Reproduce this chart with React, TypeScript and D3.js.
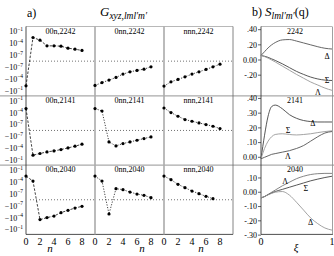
import React from "react";
import * as d3 from "d3";

// ---- panel a) data : G_xyz,lml'm' versus n ----
const nValues = [0, 1, 2, 3, 4, 5, 6, 7, 8];
const panelNames = [
  ["00n,2242", "0nn,2242", "nnn,2242"],
  ["00n,2141", "0nn,2141", "nnn,2141"],
  ["00n,2040", "0nn,2040", "nnn,2040"],
];

const g00n2242 = [-5.4e-3, 3.0e-3, 6.3e-4, 2.3e-5, 2.3e-5, 1.9e-5, 5.9e-6, 3.3e-6, 1.55e-6];
const g0nn2242 = [-4.3e-3, -8.3e-4, -1.95e-4, -4.1e-5, -5.9e-6, -1.55e-6, -6.8e-7, -3.2e-7, -8.2e-8];
const gnnn2242 = [-6.4e-3, -5.2e-4, -1.3e-4, -2.9e-5, -5.9e-6, -1.55e-6, -3.8e-7, -8.2e-8, -1.45e-8];

const g00n2141 = [1.05e-3, -5.7e-3, -2.1e-3, -8.3e-4, -4.7e-4, -2.1e-4, -8.2e-5, -3.0e-5, -9.4e-6];
const g0nn2141 = [1.05e-3, 2.6e-4, -2.5e-6, -2.5e-5, -6.3e-6, -2.5e-6, -9.2e-7, -3.4e-7, -1.32e-7];
const gnnn2141 = [1.5e-3, 1.03e-4, 1.2e-5, 1.75e-6, 6.5e-7, 2.4e-7, 9.2e-8, 3.2e-8, 6.2e-9];

const g00n2040 = [3.0e-3, 1.64e-4, -3.3e-4, -1.03e-4, -4.1e-5, -5.6e-6, -1.47e-6, -3.8e-7, -1.4e-7];
const g0nn2040 = [3.0e-3, 1.64e-4, -1.26e-5, 1.96e-6, 1.1e-6, 2.7e-7, 8.2e-8, 3.7e-8, 7.3e-9];
const gnnn2040 = [3.0e-3, 3.7e-4, 2.4e-5, 3.5e-6, 4.8e-7, 1.04e-7, 1.9e-8, 2.75e-9];

const gSeries = [
  [g00n2242, g0nn2242, gnnn2242],
  [g00n2141, g0nn2141, gnnn2141],
  [g00n2040, g0nn2040, gnnn2040],
];

const gTicks = [1e-1, 1e-4, 1e-7, -1e-7, -1e-4, -1e-1];
const nTicks = [0, 2, 4, 6, 8];

// ---- panel b) data : S_lml'm'(q) versus xi ----
const xi = [0, 0.05, 0.1, 0.15, 0.2, 0.3, 0.4, 0.5, 0.6, 0.7, 0.8, 0.9, 1];
const bRowNames = ["2242", "2141", "2040"];

const s2242Delta = [0.06, 0.11, 0.16, 0.2, 0.23, 0.265, 0.27, 0.25, 0.225, 0.2, 0.175, 0.155, 0.145];
const s2242Sigma = [0.06, 0.05, 0.035, 0.015, -0.005, -0.05, -0.1, -0.15, -0.19, -0.225, -0.25, -0.265, -0.27];
const s2242Lambda = [0.06, 0.045, 0.025, 0.0, -0.025, -0.08, -0.135, -0.19, -0.24, -0.29, -0.33, -0.37, -0.4];

const s2141Delta = [-0.01, 0.15, 0.28, 0.345, 0.355, 0.33, 0.29, 0.265, 0.25, 0.243, 0.24, 0.24, 0.24];
const s2141Sigma = [-0.01, 0.06, 0.11, 0.14, 0.155, 0.16, 0.155, 0.152, 0.155, 0.16, 0.168, 0.175, 0.18];
const s2141Lambda = [-0.01, 0.0, 0.01, 0.02, 0.025, 0.035, 0.045, 0.06, 0.08, 0.11, 0.14, 0.165, 0.175];

const s2040Lambda = [-0.04, -0.03, -0.015, 0.0, 0.015, 0.045, 0.07, 0.095, 0.112, 0.124, 0.13, 0.132, 0.132];
const s2040Sigma = [-0.04, -0.03, -0.017, -0.005, 0.005, 0.02, 0.035, 0.05, 0.065, 0.08, 0.092, 0.103, 0.112];
const s2040Delta = [-0.04, -0.03, -0.018, -0.008, 0.0, 0.005, -0.02, -0.07, -0.125, -0.18, -0.22, -0.25, -0.265];

const bCurves = [
  [
    { name: "Δ", values: s2242Delta, at: [0.93, 0.05] },
    { name: "Σ", values: s2242Sigma, at: [0.93, -0.265] },
    { name: "Λ", values: s2242Lambda, at: [0.8, -0.42] },
  ],
  [
    { name: "Δ", values: s2141Delta, at: [0.73, 0.233] },
    { name: "Σ", values: s2141Sigma, at: [0.38, 0.186] },
    { name: "Λ", values: s2141Lambda, at: [0.38, 0.009] },
  ],
  [
    { name: "Λ", values: s2040Lambda, at: [0.34, 0.077] },
    { name: "Σ", values: s2040Sigma, at: [0.63, 0.028] },
    { name: "Δ", values: s2040Delta, at: [0.7, -0.21] },
  ],
];
const curveColors = [
  ["#555", "#444", "#999"],
  ["#444", "#999", "#555"],
  ["#777", "#444", "#999"],
];

const bTicks = [
  [0.4, 0.2, 0, -0.2],
  [0.4, 0.3, 0.2, 0.1, 0],
  [0.1, 0, -0.1, -0.2, -0.3],
];
const bDomains = [
  [-0.472, 0.442],
  [-0.053, 0.418],
  [-0.295, 0.19],
];

const FONT = "'Liberation Serif', 'DejaVu Serif', serif";

const W = 334;
const H = 256;
const aLeft = 26;
const colW = 69;
const rowTop = 26.5;
const rowH = 69.3;
const bottom = rowTop + 3 * rowH;
const bLeft = 261;
const bRight = 332;

const fmtB = (v: number) =>
  v === 0 ? "0.00" : (v < 0 ? "-" : "") + "." + String(Math.round(Math.abs(v) * 100)).padStart(2, "0");

export default function App() {
  const xA = d3.scaleLinear().domain([0, 9.86]).range([0, colW]);
  const yA = d3.scaleSymlog().constant(3.07e-9).domain([-1.82, 1.82]).range([rowH, 0]);
  const xB = d3.scaleLinear().domain([0, 1]).range([bLeft, bRight]);

  const lineA = d3
    .line<number>()
    .x((d, i) => xA(nValues[i]))
    .y((d) => yA(d));

  return (
    <svg
      width={W}
      height={H}
      style={{ position: "absolute", left: 0, top: 0, background: "#fff" }}
      fontFamily={FONT}
    >
      <rect width={W} height={H} fill="#fff" />

      {/* titles */}
      <text x={27} y={17} fontSize={12}>a)</text>
      <text x={100} y={16} fontSize={13} fontStyle="italic">
        G<tspan fontSize={9.5} dy={3}>xyz,lml′m′</tspan>
      </text>
      <text x={252} y={16} fontSize={12}>
        b) <tspan fontStyle="italic" fontSize={13}>S</tspan>
        <tspan fontStyle="italic" fontSize={9.5} dy={3}>lml′m′</tspan>
        <tspan dy={-3}>(q)</tspan>
      </text>

      {/* separators spanning the figure */}
      {[1, 2].map((r) => (
        <line key={"hs" + r} x1={0} x2={W} y1={rowTop + r * rowH} y2={rowTop + r * rowH} stroke="#aaa" strokeWidth={1.2} />
      ))}

      {/* panel a frame */}
      <line x1={aLeft} x2={aLeft + 3 * colW} y1={rowTop} y2={rowTop} stroke="#999" strokeWidth={0.7} />
      <line x1={aLeft} x2={aLeft + 3 * colW} y1={bottom} y2={bottom} stroke="#222" strokeWidth={0.8} />
      <line x1={aLeft} x2={aLeft} y1={rowTop} y2={bottom} stroke="#222" strokeWidth={0.8} />
      <line x1={aLeft + 3 * colW} x2={aLeft + 3 * colW} y1={rowTop} y2={bottom} stroke="#666" strokeWidth={0.8} />
      {[1, 2].map((c) => (
        <line key={"vs" + c} x1={aLeft + c * colW} x2={aLeft + c * colW} y1={rowTop} y2={bottom} stroke="#aaa" strokeWidth={1.6} />
      ))}

      {/* panel a cells */}
      {gSeries.map((row, r) => {
        const y0 = rowTop + r * rowH;
        return (
          <g key={"ar" + r}>
            {gTicks.map((t) => {
              const exp = Math.round(Math.log10(Math.abs(t)));
              return (
                <text key={t} x={23} y={y0 + yA(t) + 3} fontSize={8} textAnchor="end">
                  {t < 0 ? "−10" : "10"}
                  <tspan fontSize={5.5} dy={-3.5}>{"−" + Math.abs(exp)}</tspan>
                </text>
              );
            })}
            {row.map((vals, c) => {
              const x0 = aLeft + c * colW;
              return (
                <g key={"ac" + c}>
                  <line
                    x1={x0 + 4}
                    x2={x0 + colW}
                    y1={y0 + yA(0)}
                    y2={y0 + yA(0)}
                    stroke="#333"
                    strokeWidth={0.7}
                    strokeDasharray="1,2"
                  />
                  <text x={x0 + colW / 2} y={y0 + 7} fontSize={8} textAnchor="middle">
                    {panelNames[r][c]}
                  </text>
                  <g transform={`translate(${x0},${y0})`}>
                    <path
                      d={lineA(vals) || ""}
                      fill="none"
                      stroke="#111"
                      strokeWidth={0.8}
                      strokeDasharray={c === 0 ? "2.5,1.5" : "1.2,1.5"}
                    />
                    {vals.map((v, i) => (
                      <circle key={i} cx={xA(nValues[i])} cy={yA(v)} r={1.6} fill="#000" />
                    ))}
                  </g>
                </g>
              );
            })}
          </g>
        );
      })}

      {/* panel a x axes */}
      {[0, 1, 2].map((c) => (
        <g key={"ax" + c}>
          {nTicks.map((t) => (
            <text key={t} x={aLeft + c * colW + xA(t)} y={bottom + 11} fontSize={10} textAnchor="middle">
              {t}
            </text>
          ))}
        </g>
      ))}
      {[50, 142, 201].map((x) => (
        <text key={"n" + x} x={x} y={bottom + 18} fontSize={11} fontStyle="italic" textAnchor="middle">
          n
        </text>
      ))}

      {/* panel b */}
      <line x1={bLeft} x2={bRight} y1={rowTop} y2={rowTop} stroke="#999" strokeWidth={0.7} />
      <line x1={bLeft} x2={bRight + 1} y1={bottom} y2={bottom} stroke="#222" strokeWidth={0.8} />
      <line x1={bLeft} x2={bLeft} y1={rowTop} y2={bottom} stroke="#222" strokeWidth={0.8} />
      <line x1={bRight + 0.5} x2={bRight + 0.5} y1={rowTop} y2={bottom} stroke="#888" strokeWidth={0.8} />
      {bCurves.map((curves, r) => {
        const y0 = rowTop + r * rowH;
        const yB = d3.scaleLinear().domain(bDomains[r]).range([y0 + rowH, y0]);
        const lineB = d3
          .line<number>()
          .x((d, i) => xB(xi[i]))
          .y((d) => yB(d))
          .curve(d3.curveMonotoneX);
        return (
          <g key={"br" + r}>
            {bTicks[r].map((t) => (
              <g key={t}>
                <line x1={bLeft - 3} x2={bLeft} y1={yB(t)} y2={yB(t)} stroke="#222" strokeWidth={0.7} />
                <text x={bLeft - 4} y={yB(t) + 2.8} fontSize={8} textAnchor="end">
                  {fmtB(t)}
                </text>
              </g>
            ))}
            <text x={295} y={y0 + 7} fontSize={8} textAnchor="middle">
              {bRowNames[r]}
            </text>
            {curves.map((cv, k) => (
              <g key={cv.name}>
                <path d={lineB(cv.values) || ""} fill="none" stroke={curveColors[r][k]} strokeWidth={0.9} />
                <text x={xB(cv.at[0])} y={yB(cv.at[1]) + 3} fontSize={8} textAnchor="middle">
                  {cv.name}
                </text>
              </g>
            ))}
          </g>
        );
      })}
      <text x={xB(0)} y={bottom + 11} fontSize={10} textAnchor="middle">0</text>
      <text x={xB(1)} y={bottom + 11} fontSize={10} textAnchor="middle">1</text>
      <text x={296} y={bottom + 17} fontSize={11} fontStyle="italic" textAnchor="middle">ξ</text>
    </svg>
  );
}
